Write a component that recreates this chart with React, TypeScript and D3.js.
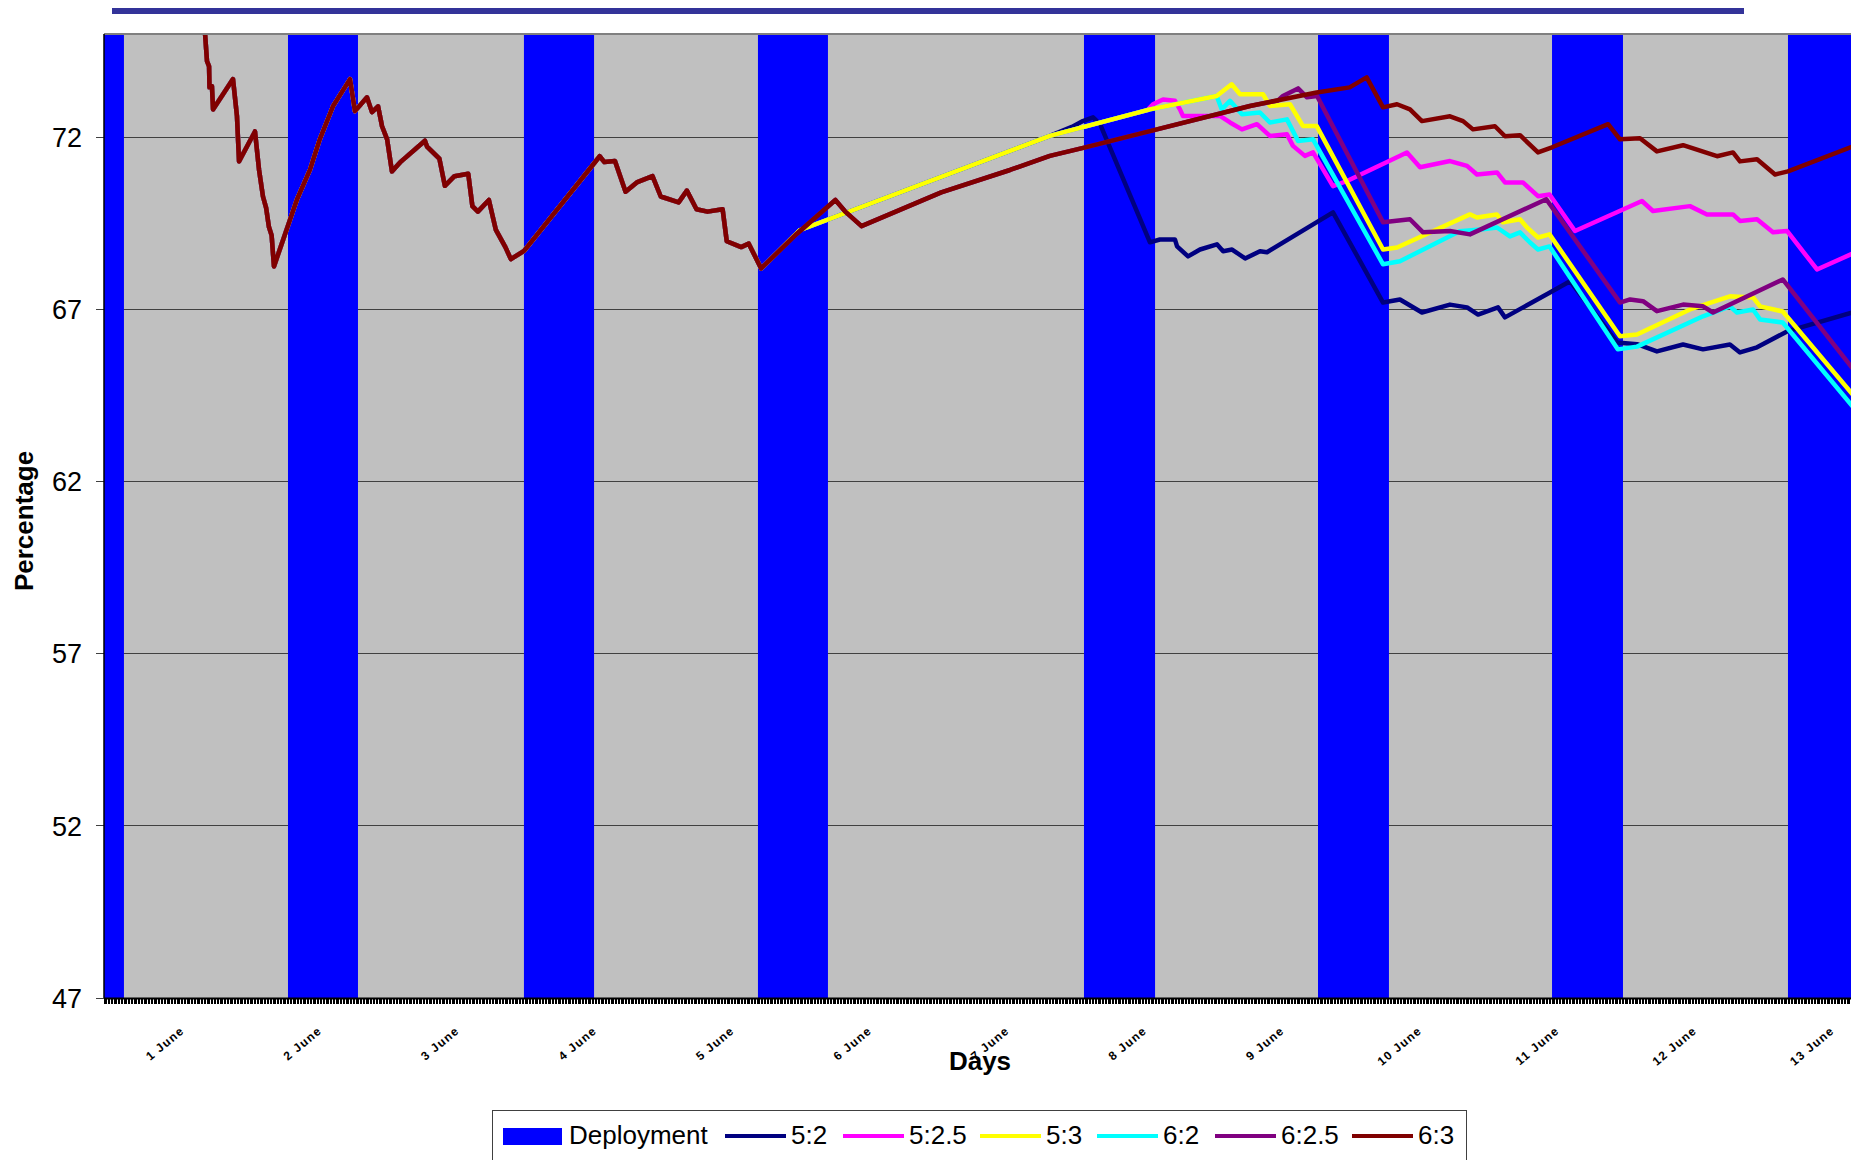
import * as d3 from 'd3'

type Pt = [number, number]

const W = 1851
const H = 1160

const yTicks = [47, 52, 57, 62, 67, 72]
const labelDays = [1, 2, 3, 4, 5, 6, 7, 8, 9, 10, 11, 12, 13]
const dayLabels = labelDays.map(d => `${d} June`)

// deployment windows (in days)
const deployStart = [0.3, 1.749, 3.465, 5.167, 7.538, 9.24, 10.942, 12.658]
const deployEnd = [0.556, 2.258, 3.975, 5.676, 8.055, 9.756, 11.458, 13.4]

// common history of every series up to the 4th deployment
const basePath: Pt[] = [
  [1.13, 75.6], [1.145, 75.05], [1.16, 74.21], [1.175, 74.06], [1.178, 73.45], [1.196, 73.48],
  [1.204, 72.81], [1.349, 73.69], [1.378, 72.61], [1.393, 71.3], [1.509, 72.17], [1.538, 71.07],
  [1.567, 70.28], [1.59, 69.95], [1.61, 69.4], [1.63, 69.15], [1.647, 68.25], [1.815, 70.2],
  [1.91, 71.07], [1.98, 71.94], [2.076, 72.9], [2.2, 73.69], [2.236, 72.76], [2.324, 73.16],
  [2.36, 72.73], [2.404, 72.9], [2.433, 72.32], [2.47, 71.94], [2.505, 71.01], [2.564, 71.27],
  [2.745, 71.9], [2.76, 71.73], [2.85, 71.38], [2.89, 70.59], [2.96, 70.87], [3.06, 70.94],
  [3.09, 70.0], [3.13, 69.84], [3.21, 70.18], [3.26, 69.32], [3.33, 68.81], [3.37, 68.46],
  [3.466, 68.7], [4.016, 71.45], [4.05, 71.28], [4.127, 71.31], [4.204, 70.42], [4.29, 70.7],
  [4.4, 70.87], [4.46, 70.28], [4.59, 70.11], [4.65, 70.45], [4.72, 69.91], [4.8, 69.84],
  [4.91, 69.91], [4.94, 68.98], [5.045, 68.81], [5.1, 68.91], [5.19, 68.19],
]

const tail52: Pt[] = [
  [5.47, 69.3], [7.29, 72.04], [7.45, 72.3], [7.53, 72.47], [7.604, 72.58], [7.655, 72.38],
  [8.018, 68.95], [8.09, 69.03], [8.2, 69.03], [8.215, 68.83], [8.295, 68.54], [8.382, 68.74],
  [8.505, 68.89], [8.55, 68.69], [8.615, 68.74], [8.71, 68.48], [8.818, 68.69], [8.869, 68.66],
  [9.349, 69.82], [9.713, 67.2], [9.836, 67.29], [9.996, 66.91], [10.2, 67.14], [10.324, 67.06],
  [10.404, 66.85], [10.549, 67.06], [10.6, 66.77], [10.927, 67.49], [11.073, 67.82], [11.415, 66.04],
  [11.56, 65.99], [11.705, 65.78], [11.895, 65.98], [12.04, 65.84], [12.236, 65.98], [12.309, 65.75],
  [12.433, 65.9], [12.651, 66.36], [13.2, 67.0],
]

const tail525: Pt[] = [
  [5.47, 69.3], [7.29, 72.04], [8.0, 72.79], [8.04, 72.96], [8.113, 73.1], [8.2, 73.06],
  [8.236, 72.81], [8.258, 72.62], [8.527, 72.62], [8.6, 72.43], [8.687, 72.23], [8.796, 72.38],
  [8.89, 72.04], [9.014, 72.09], [9.058, 71.75], [9.145, 71.46], [9.204, 71.56], [9.349, 70.58],
  [9.451, 70.73], [9.887, 71.56], [9.982, 71.13], [10.2, 71.31], [10.324, 71.17], [10.396, 70.92],
  [10.542, 70.98], [10.6, 70.69], [10.73, 70.69], [10.84, 70.29], [10.924, 70.34], [11.109, 69.28],
  [11.596, 70.15], [11.676, 69.86], [11.945, 70.0], [12.069, 69.76], [12.258, 69.76], [12.309, 69.57],
  [12.433, 69.62], [12.549, 69.24], [12.651, 69.28], [12.869, 68.16], [13.2, 68.75],
]

const tail53: Pt[] = [
  [5.47, 69.3], [7.29, 72.04], [8.018, 72.81], [8.503, 73.2], [8.612, 73.54], [8.673, 73.25],
  [8.84, 73.25], [8.89, 72.91], [9.036, 72.96], [9.13, 72.33], [9.23, 72.33], [9.713, 68.74],
  [9.815, 68.8], [10.345, 69.76], [10.396, 69.67], [10.54, 69.76], [10.585, 69.53], [10.709, 69.62],
  [10.76, 69.38], [10.84, 69.09], [10.924, 69.18], [11.436, 66.22], [11.56, 66.27], [11.945, 67.0],
  [12.236, 67.38], [12.404, 67.35], [12.455, 67.09], [12.62, 66.94], [13.2, 64.19],
]

const tail62: Pt[] = [
  [5.47, 69.3], [7.29, 72.04], [8.018, 72.81], [8.503, 73.2], [8.54, 72.81], [8.6, 73.06],
  [8.687, 72.67], [8.818, 72.72], [8.89, 72.43], [9.014, 72.52], [9.095, 71.89], [9.204, 71.94],
  [9.713, 68.31], [9.836, 68.4], [10.27, 69.27], [10.44, 69.33], [10.542, 69.38], [10.636, 69.12],
  [10.709, 69.24], [10.78, 68.95], [10.84, 68.74], [10.924, 68.83], [11.42, 65.84], [11.56, 65.92],
  [12.04, 66.8], [12.236, 67.09], [12.287, 66.91], [12.404, 67.0], [12.455, 66.71], [12.62, 66.62],
  [13.2, 63.84],
]

const tail625: Pt[] = [
  [5.45, 69.2], [5.73, 70.18], [5.8, 69.85], [5.92, 69.42], [6.5, 70.4], [7.0, 71.05],
  [7.29, 71.46], [7.54, 71.7], [8.018, 72.18], [8.745, 72.91], [8.95, 73.07], [8.985, 73.2],
  [9.095, 73.42], [9.16, 73.16], [9.233, 73.2], [9.713, 69.53], [9.909, 69.62], [10.004, 69.24],
  [10.2, 69.28], [10.345, 69.18], [10.9, 70.2], [11.436, 67.2], [11.51, 67.29], [11.604, 67.24],
  [11.705, 66.95], [11.895, 67.14], [12.04, 67.09], [12.113, 66.91], [12.62, 67.87], [13.2, 64.92],
]

const tail63: Pt[] = [
  [5.45, 69.2], [5.73, 70.18], [5.8, 69.85], [5.92, 69.42], [6.5, 70.4], [7.0, 71.05],
  [7.29, 71.46], [7.54, 71.7], [8.018, 72.18], [8.745, 72.91], [9.23, 73.3], [9.47, 73.45],
  [9.594, 73.74], [9.713, 72.87], [9.815, 72.96], [9.909, 72.81], [9.996, 72.47], [10.2, 72.61],
  [10.295, 72.47], [10.367, 72.23], [10.527, 72.32], [10.6, 72.03], [10.709, 72.06], [10.84, 71.56],
  [10.942, 71.71], [11.35, 72.38], [11.436, 71.94], [11.582, 71.97], [11.705, 71.59], [11.895, 71.77],
  [12.142, 71.45], [12.258, 71.56], [12.309, 71.3], [12.433, 71.36], [12.564, 70.92], [12.658, 71.01],
  [13.2, 71.84],
]

const seriesNames = ['5:2', '5:2.5', '5:3', '6:2', '6:2.5', '6:3']
const seriesColors = ['#000080', '#FF00FF', '#FFFF00', '#00FFFF', '#800080', '#800000']
const seriesTails = [tail52, tail525, tail53, tail62, tail625, tail63]
// paint order so that the overlapping stretches look like the original
const drawOrder = [0, 1, 3, 2, 4, 5]

const FONT = '"Liberation Sans", Arial, Helvetica, sans-serif'

export default function App() {
  const plot = { left: 104, right: W, top: 34, bottom: 998 }

  const x = d3.scaleLinear().domain([1, 13]).range([185, 1835])
  const y = d3.scaleLinear().domain([47, 75]).range([plot.bottom, plot.top])

  const line = d3.line<Pt>()
    .x(d => x(d[0]))
    .y(d => y(d[1]))

  const minorTicks = d3.range(x.invert(plot.left), x.invert(plot.right), 1 / 96)

  // legend layout (x of swatch start)
  const legendLines = [725, 843, 980, 1097, 1215, 1352]

  return (
    <svg
      width={W}
      height={H}
      style={{ position: 'absolute', left: 0, top: 0, background: '#fff' }}
      fontFamily={FONT}
    >
      <defs>
        <clipPath id="plot-clip">
          <rect x={plot.left} y={plot.top} width={plot.right - plot.left} height={plot.bottom - plot.top} />
        </clipPath>
      </defs>

      <rect x={112} y={8} width={1632} height={6} fill="#333399" />

      {/* plot area */}
      <rect x={plot.left} y={plot.top} width={plot.right - plot.left} height={plot.bottom - plot.top} fill="#C0C0C0" />

      {yTicks.map(t => (
        <line key={t} x1={96} x2={plot.right} y1={y(t)} y2={y(t)} stroke="#404040" strokeWidth={1} shapeRendering="crispEdges" />
      ))}

      <g clipPath="url(#plot-clip)">
        {deployStart.map((s, i) => (
          <rect key={i} x={x(s)} y={plot.top} width={x(deployEnd[i]) - x(s)} height={plot.bottom - plot.top} fill="#0000FF" />
        ))}
        {drawOrder.map(i => (
          <path
            key={seriesNames[i]}
            d={line(basePath.concat(seriesTails[i])) ?? ''}
            fill="none"
            stroke={seriesColors[i]}
            strokeWidth={4.5}
            strokeLinejoin="round"
          />
        ))}
      </g>

      <line x1={plot.left} x2={plot.right} y1={plot.top} y2={plot.top} stroke="#808080" strokeWidth={2} />
      <line x1={plot.left} x2={plot.left} y1={plot.top} y2={plot.bottom} stroke="#000" strokeWidth={1.5} />

      {yTicks.map(t => (
        <text key={t} x={82} y={y(t)} dy="0.36em" textAnchor="end" fontSize={27} fill="#000">{t}</text>
      ))}

      {/* x axis with dense category ticks */}
      <line x1={plot.left} x2={plot.right} y1={plot.bottom + 0.5} y2={plot.bottom + 0.5} stroke="#000" strokeWidth={2} />
      {minorTicks.map((d, i) => (
        <line key={i} x1={x(d)} x2={x(d)} y1={plot.bottom} y2={plot.bottom + 6} stroke="#000" strokeWidth={1} shapeRendering="crispEdges" />
      ))}

      {labelDays.map((d, i) => (
        <text
          key={d}
          transform={`translate(${x(d)},1032) rotate(-40)`}
          textAnchor="end"
          fontSize={12}
          fontWeight="bold"
          letterSpacing={1.2}
          fill="#000"
        >
          {dayLabels[i]}
        </text>
      ))}

      <text x={980} y={1070} textAnchor="middle" fontSize={26} fontWeight="bold">Days</text>
      <text transform="translate(33,521) rotate(-90)" textAnchor="middle" fontSize={26} fontWeight="bold">Percentage</text>

      {/* legend */}
      <rect x={492.5} y={1110.5} width={974} height={70} fill="#fff" stroke="#404040" strokeWidth={1} />
      <rect x={503} y={1128} width={59} height={17} fill="#0000FF" />
      <text x={569} y={1144} fontSize={26}>Deployment</text>
      {seriesNames.map((name, i) => (
        <g key={name}>
          <line x1={legendLines[i]} x2={legendLines[i] + 61} y1={1136} y2={1136} stroke={seriesColors[i]} strokeWidth={4} />
          <text x={legendLines[i] + 66} y={1144} fontSize={26}>{name}</text>
        </g>
      ))}
    </svg>
  )
}
